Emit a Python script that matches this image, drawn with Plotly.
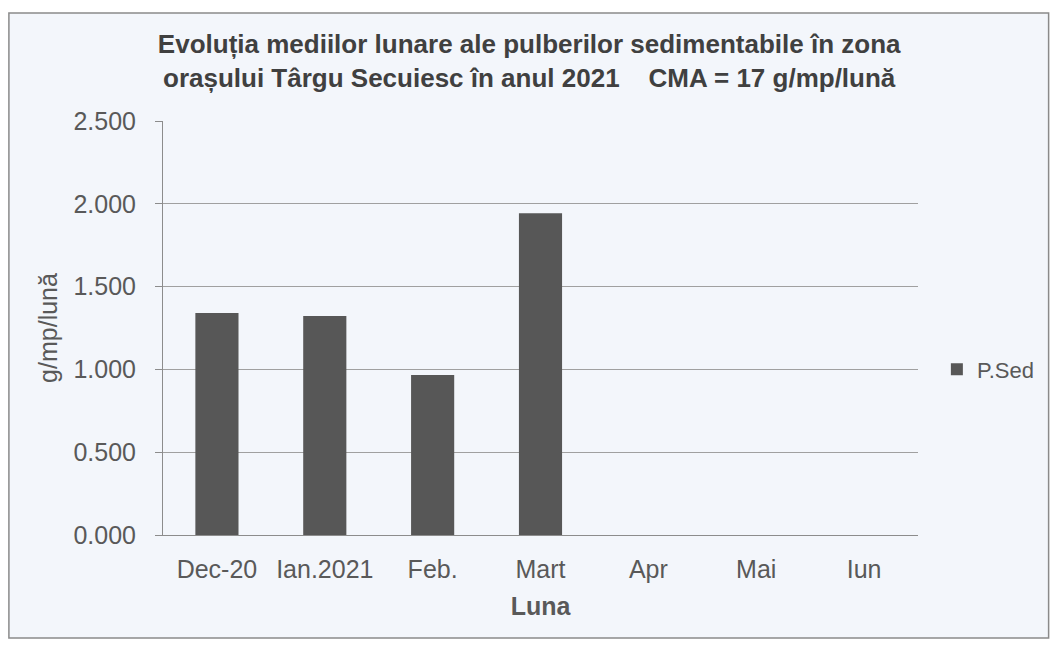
import plotly.graph_objects as go

months = ["Dec-20", "Ian.2021", "Feb.", "Mart", "Apr", "Mai", "Iun"]
p_sed = [1.340, 1.322, 0.966, 1.943, 0, 0, 0]
y_ticks = [0.0, 0.5, 1.0, 1.5, 2.0, 2.5]

title_text = ("Evoluția mediilor lunare ale pulberilor sedimentabile în zona<br>"
              "orașului Târgu Secuiesc în anul 2021    CMA = 17 g/mp/lună")

FONT = "Liberation Sans, Arial, sans-serif"
TXT = "#595959"

fig = go.Figure()
fig.add_trace(go.Bar(
    x=months, y=p_sed, name="P.Sed",
    marker=dict(color="#575757", line=dict(width=0)),
))

fig.update_layout(
    width=1044, height=631,
    paper_bgcolor="white",
    plot_bgcolor="rgba(0,0,0,0)",
    margin=dict(l=155, r=132, t=113, b=104),
    font=dict(family=FONT, color=TXT),
    title=dict(text=title_text, x=0.485, xref="paper", xanchor="center",
               y=0.928, yref="container", yanchor="middle",
               font=dict(size=26, color="#404040", family=FONT, weight="bold")),
    bargap=0.6,
    showlegend=True,
    legend=dict(x=1.025, y=0.4, xanchor="left", yanchor="middle",
                font=dict(size=22, color=TXT), bgcolor="rgba(0,0,0,0)"),
    shapes=[dict(type="rect", xref="paper", yref="paper", layer="below",
                 x0=-0.2041, x1=1.173, y0=-0.249, y1=1.261,
                 fillcolor="#f3f6fb", line=dict(color="#8a8a8a", width=1.5))],
)
fig.update_xaxes(
    title=dict(text="<b>Luna</b>", font=dict(size=25, color=TXT), standoff=15),
    tickfont=dict(size=25, color=TXT),
    ticklabelstandoff=12,
    showline=True, linecolor="#8c8c8c", linewidth=1,
    showgrid=False, ticks="",
)
fig.update_yaxes(
    title=dict(text="g/mp/lună", font=dict(size=25, color=TXT), standoff=8),
    range=[0, 2.5], tickvals=y_ticks, tickformat=".3f",
    tickfont=dict(size=25, color=TXT),
    ticklabelstandoff=14,
    showline=True, linecolor="#8c8c8c", linewidth=1,
    ticks="outside", ticklen=7, tickcolor="#8c8c8c",
    showgrid=True, gridcolor="#a0a0a0", gridwidth=1,
    zeroline=False,
)

fig.write_html("out.html")
